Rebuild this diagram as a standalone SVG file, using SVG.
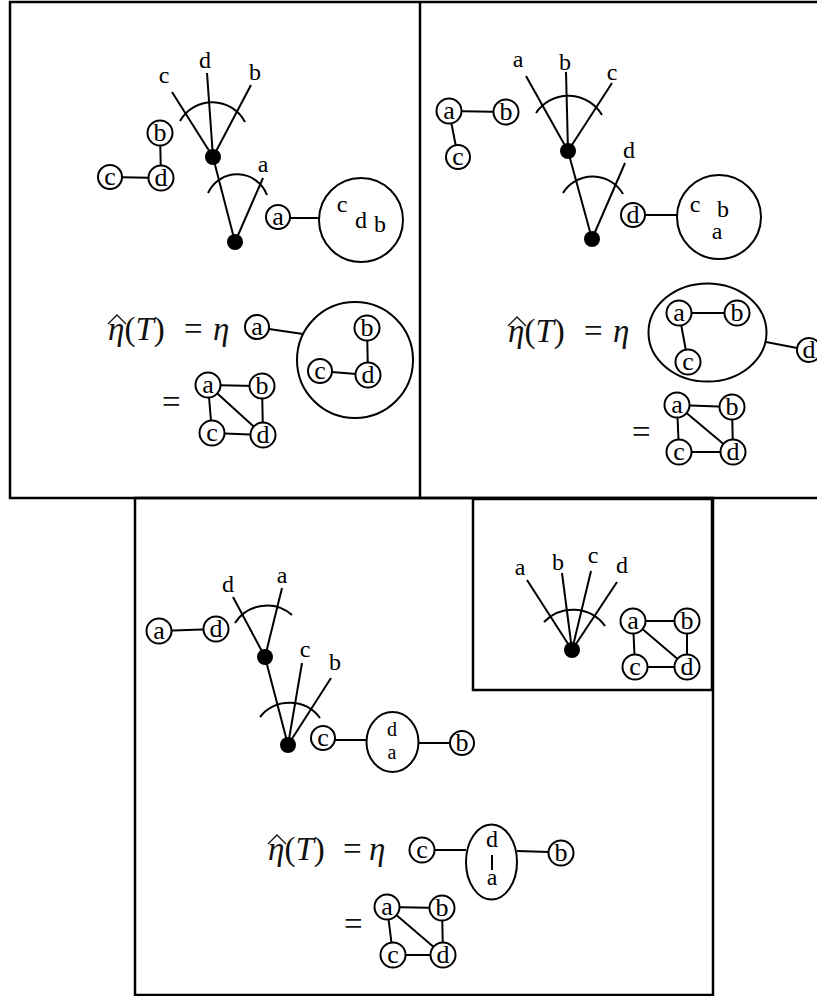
<svg xmlns="http://www.w3.org/2000/svg" width="817" height="996" viewBox="0 0 817 996">
<style>
.fr{fill:none;stroke:#000;stroke-width:2.5}
.e{stroke:#000;stroke-width:2;fill:none}
.v{fill:#fff;stroke:#000;stroke-width:2}
.box{fill:none;stroke:#000;stroke-width:2}
.dot{fill:#000}
.hat{fill:none;stroke:#111;stroke-width:1.3;stroke-linejoin:miter}
.t{font-family:"Liberation Serif","Times New Roman",serif;font-size:26px;text-anchor:middle;fill:#000}
.l{font-family:"Liberation Serif","Times New Roman",serif;font-size:24px;text-anchor:middle;fill:#000}
.s{font-family:"Liberation Serif","Times New Roman",serif;font-size:20px;text-anchor:middle;fill:#000}
.m{font-family:"Liberation Serif","Times New Roman",serif;font-size:33px;fill:#111}
.i{font-style:italic}
</style>
<rect width="817" height="996" fill="#fff"/>
<g id="frames">
<rect class="fr" x="10" y="2" width="812" height="496"/>
<line class="fr" x1="420" y1="2" x2="420" y2="498"/>
<rect class="fr" x="135" y="498" width="578" height="497"/>
<rect class="fr" x="473" y="499" width="239" height="191"/>
</g>
<g id="connectors">
<line class="e" x1="172" y1="92" x2="213" y2="157"/>
<line class="e" x1="207" y1="73" x2="213" y2="157"/>
<line class="e" x1="251" y1="85" x2="213" y2="157"/>
<line class="e" x1="213" y1="157" x2="235" y2="242"/>
<line class="e" x1="263" y1="178" x2="235" y2="242"/>
<path class="e" d="M180,121 A37,37 0 0 1 245,122"/>
<path class="e" d="M208,193 A32,32 0 0 1 267,195"/>
<line class="e" x1="160" y1="133" x2="161" y2="178"/>
<line class="e" x1="110" y1="177" x2="161" y2="178"/>
<line class="e" x1="290" y1="218" x2="319" y2="218"/>
<line class="e" x1="269" y1="329" x2="303" y2="334"/>
<line class="e" x1="367" y1="328" x2="368" y2="375"/>
<line class="e" x1="320" y1="371" x2="368" y2="375"/>
<line class="e" x1="208" y1="385" x2="262" y2="386"/>
<line class="e" x1="208" y1="385" x2="212" y2="433"/>
<line class="e" x1="208" y1="385" x2="263" y2="435"/>
<line class="e" x1="262" y1="386" x2="263" y2="435"/>
<line class="e" x1="212" y1="433" x2="263" y2="435"/>
<line class="e" x1="526" y1="76" x2="568" y2="151"/>
<line class="e" x1="566" y1="72" x2="568" y2="151"/>
<line class="e" x1="612" y1="83" x2="568" y2="151"/>
<line class="e" x1="568" y1="151" x2="592" y2="239"/>
<line class="e" x1="625" y1="163" x2="592" y2="239"/>
<path class="e" d="M536,113 A39,39 0 0 1 602,115"/>
<path class="e" d="M563,193 A35,35 0 0 1 623,194"/>
<line class="e" x1="449" y1="111" x2="506" y2="112"/>
<line class="e" x1="449" y1="111" x2="458" y2="157"/>
<line class="e" x1="645" y1="215" x2="677" y2="215"/>
<line class="e" x1="679" y1="313" x2="737" y2="313"/>
<line class="e" x1="679" y1="313" x2="688" y2="362"/>
<line class="e" x1="766" y1="342" x2="797" y2="348"/>
<line class="e" x1="677" y1="405" x2="732" y2="407"/>
<line class="e" x1="677" y1="405" x2="679" y2="452"/>
<line class="e" x1="677" y1="405" x2="733" y2="452"/>
<line class="e" x1="732" y1="407" x2="733" y2="452"/>
<line class="e" x1="679" y1="452" x2="733" y2="452"/>
<line class="e" x1="159" y1="631" x2="216" y2="629"/>
<line class="e" x1="233" y1="597" x2="265" y2="657"/>
<line class="e" x1="282" y1="588" x2="265" y2="657"/>
<line class="e" x1="265" y1="657" x2="288" y2="745"/>
<line class="e" x1="302" y1="663" x2="288" y2="745"/>
<line class="e" x1="331" y1="678" x2="288" y2="745"/>
<path class="e" d="M235,623 A38,38 0 0 1 292,615"/>
<path class="e" d="M260,717 A38,38 0 0 1 320,718"/>
<line class="e" x1="335" y1="740" x2="367" y2="740"/>
<line class="e" x1="418" y1="743" x2="450" y2="743"/>
<line class="e" x1="434" y1="850" x2="466" y2="850"/>
<line class="e" x1="492" y1="855" x2="492" y2="870"/>
<line class="e" x1="517" y1="851" x2="549" y2="852"/>
<line class="e" x1="387" y1="907" x2="442" y2="908"/>
<line class="e" x1="387" y1="907" x2="393" y2="955"/>
<line class="e" x1="387" y1="907" x2="443" y2="955"/>
<line class="e" x1="442" y1="908" x2="443" y2="955"/>
<line class="e" x1="393" y1="955" x2="443" y2="955"/>
<line class="e" x1="527" y1="580" x2="572" y2="650"/>
<line class="e" x1="562" y1="573" x2="572" y2="650"/>
<line class="e" x1="591" y1="571" x2="572" y2="650"/>
<line class="e" x1="617" y1="582" x2="572" y2="650"/>
<path class="e" d="M544,622 A40,40 0 0 1 605,626"/>
<line class="e" x1="633" y1="621" x2="687" y2="621"/>
<line class="e" x1="633" y1="621" x2="635" y2="667"/>
<line class="e" x1="633" y1="621" x2="687" y2="667"/>
<line class="e" x1="687" y1="621" x2="687" y2="667"/>
<line class="e" x1="635" y1="667" x2="687" y2="667"/>
</g>

<g id="tl-tree">
<circle class="dot" cx="213" cy="157" r="8"/>
<circle class="dot" cx="235" cy="242" r="8"/>
<text class="l" x="164" y="83">c</text>
<text class="l" x="205" y="68">d</text>
<text class="l" x="255" y="80">b</text>
<text class="l" x="263" y="172">a</text>
</g>
<g id="tl-b"><circle class="v" cx="160" cy="133" r="12.5"/><text class="t" x="160" y="141">b</text></g>
<g id="tl-d"><circle class="v" cx="161" cy="178" r="12.5"/><text class="t" x="161" y="186">d</text></g>
<g id="tl-c"><circle class="v" cx="110" cy="177" r="12"/><text class="t" x="110" y="185">c</text></g>
<g id="tl-a"><circle class="v" cx="278" cy="217" r="12"/><text class="t" x="278" y="225">a</text></g>
<g id="tl-bag"><circle class="box" cx="361" cy="220" r="42"/>
<text class="l" x="342" y="212">c</text><text class="l" x="361" y="228">d</text><text class="l" x="380" y="232">b</text></g>
<g id="tl-formula">
<path class="hat" d="M108,324 L117,315 L126,324"/>
<text class="m" x="108" y="340"><tspan class="i">η</tspan>(<tspan class="i">T</tspan>)</text>
<text class="m" x="184" y="340">=</text>
<text class="m i" x="213" y="340">η</text>
<text class="m" x="162" y="413">=</text>
</g>
<g id="tl-fa"><circle class="v" cx="257" cy="327" r="12"/><text class="t" x="257" y="335">a</text></g>
<g id="tl-fbag"><circle class="box" cx="355" cy="360" r="58"/></g>
<g id="tl-fb"><circle class="v" cx="367" cy="328" r="12.5"/><text class="t" x="367" y="336">b</text></g>
<g id="tl-fd"><circle class="v" cx="368" cy="375" r="12.5"/><text class="t" x="368" y="383">d</text></g>
<g id="tl-fc"><circle class="v" cx="320" cy="371" r="12"/><text class="t" x="320" y="379">c</text></g>
<g id="tl-ga"><circle class="v" cx="208" cy="385" r="12.5"/><text class="t" x="208" y="393">a</text></g>
<g id="tl-gb"><circle class="v" cx="262" cy="386" r="12.5"/><text class="t" x="262" y="394">b</text></g>
<g id="tl-gc"><circle class="v" cx="212" cy="433" r="12.5"/><text class="t" x="212" y="441">c</text></g>
<g id="tl-gd"><circle class="v" cx="263" cy="435" r="12.5"/><text class="t" x="263" y="443">d</text></g>

<g id="tr-tree">
<circle class="dot" cx="568" cy="151" r="8"/>
<circle class="dot" cx="592" cy="239" r="8"/>
<text class="l" x="518" y="67">a</text>
<text class="l" x="565" y="70">b</text>
<text class="l" x="612" y="80">c</text>
<text class="l" x="629" y="158">d</text>
</g>
<g id="tr-a"><circle class="v" cx="449" cy="111" r="12.5"/><text class="t" x="449" y="119">a</text></g>
<g id="tr-b"><circle class="v" cx="506" cy="112" r="12.5"/><text class="t" x="506" y="120">b</text></g>
<g id="tr-c"><circle class="v" cx="458" cy="157" r="12"/><text class="t" x="458" y="165">c</text></g>
<g id="tr-d"><circle class="v" cx="633" cy="215" r="12"/><text class="t" x="633" y="223">d</text></g>
<g id="tr-bag"><circle class="box" cx="719" cy="217" r="42"/>
<text class="l" x="695" y="212">c</text><text class="l" x="723" y="217">b</text><text class="l" x="717" y="239">a</text></g>
<g id="tr-formula">
<path class="hat" d="M508,326 L517,317 L526,326"/>
<text class="m" x="508" y="342"><tspan class="i">η</tspan>(<tspan class="i">T</tspan>)</text>
<text class="m" x="584" y="342">=</text>
<text class="m i" x="613" y="342">η</text>
<text class="m" x="632" y="443">=</text>
</g>
<g id="tr-fbag"><ellipse class="box" cx="707.5" cy="332.5" rx="59" ry="49"/></g>
<g id="tr-fa"><circle class="v" cx="679" cy="313" r="12.5"/><text class="t" x="679" y="321">a</text></g>
<g id="tr-fb"><circle class="v" cx="737" cy="313" r="12.5"/><text class="t" x="737" y="321">b</text></g>
<g id="tr-fc"><circle class="v" cx="688" cy="362" r="12.5"/><text class="t" x="688" y="370">c</text></g>
<g id="tr-fd"><circle class="v" cx="809" cy="350" r="12"/><text class="t" x="809" y="358">d</text></g>
<g id="tr-ga"><circle class="v" cx="677" cy="405" r="12.5"/><text class="t" x="677" y="413">a</text></g>
<g id="tr-gb"><circle class="v" cx="732" cy="407" r="12.5"/><text class="t" x="732" y="415">b</text></g>
<g id="tr-gc"><circle class="v" cx="679" cy="452" r="12.5"/><text class="t" x="679" y="460">c</text></g>
<g id="tr-gd"><circle class="v" cx="733" cy="452" r="12.5"/><text class="t" x="733" y="460">d</text></g>

<g id="b-a"><circle class="v" cx="159" cy="631" r="12.5"/><text class="t" x="159" y="639">a</text></g>
<g id="b-d"><circle class="v" cx="216" cy="629" r="12.5"/><text class="t" x="216" y="637">d</text></g>
<g id="b-tree">
<circle class="dot" cx="265" cy="657" r="8"/>
<circle class="dot" cx="288" cy="745" r="8"/>
<text class="l" x="228" y="592">d</text>
<text class="l" x="282" y="583">a</text>
<text class="l" x="305" y="657">c</text>
<text class="l" x="335" y="670">b</text>
</g>
<g id="b-c"><circle class="v" cx="323" cy="738" r="12"/><text class="t" x="323" y="746">c</text></g>
<g id="b-bag"><ellipse class="box" cx="392.5" cy="742" rx="26" ry="30"/>
<text class="s" x="392" y="736">d</text><text class="s" x="392" y="759">a</text></g>
<g id="b-b"><circle class="v" cx="462" cy="743" r="12"/><text class="t" x="462" y="751">b</text></g>
<g id="b-formula">
<path class="hat" d="M268,844 L277,835 L286,844"/>
<text class="m" x="268" y="860"><tspan class="i">η</tspan>(<tspan class="i">T</tspan>)</text>
<text class="m" x="343" y="860">=</text>
<text class="m i" x="369" y="860">η</text>
<text class="m" x="344" y="935">=</text>
</g>
<g id="b-fc"><circle class="v" cx="422" cy="850" r="12.5"/><text class="t" x="422" y="858">c</text></g>
<g id="b-fbag"><ellipse class="box" cx="491.5" cy="862" rx="25.5" ry="37.5"/>
<text class="l" x="492" y="847">d</text><text class="l" x="492" y="885">a</text></g>
<g id="b-fb"><circle class="v" cx="561" cy="853" r="12.5"/><text class="t" x="561" y="861">b</text></g>
<g id="b-ga"><circle class="v" cx="387" cy="907" r="12.5"/><text class="t" x="387" y="915">a</text></g>
<g id="b-gb"><circle class="v" cx="442" cy="908" r="12.5"/><text class="t" x="442" y="916">b</text></g>
<g id="b-gc"><circle class="v" cx="393" cy="955" r="12.5"/><text class="t" x="393" y="963">c</text></g>
<g id="b-gd"><circle class="v" cx="443" cy="955" r="12.5"/><text class="t" x="443" y="963">d</text></g>

<g id="in-tree">
<circle class="dot" cx="572" cy="650" r="8"/>
<text class="l" x="520" y="575">a</text>
<text class="l" x="558" y="570">b</text>
<text class="l" x="593" y="563">c</text>
<text class="l" x="622" y="573">d</text>
</g>
<g id="in-a"><circle class="v" cx="633" cy="621" r="12.5"/><text class="t" x="633" y="629">a</text></g>
<g id="in-b"><circle class="v" cx="687" cy="621" r="12.5"/><text class="t" x="687" y="629">b</text></g>
<g id="in-c"><circle class="v" cx="635" cy="667" r="12.5"/><text class="t" x="635" y="675">c</text></g>
<g id="in-d"><circle class="v" cx="687" cy="667" r="12.5"/><text class="t" x="687" y="675">d</text></g>
</svg>
